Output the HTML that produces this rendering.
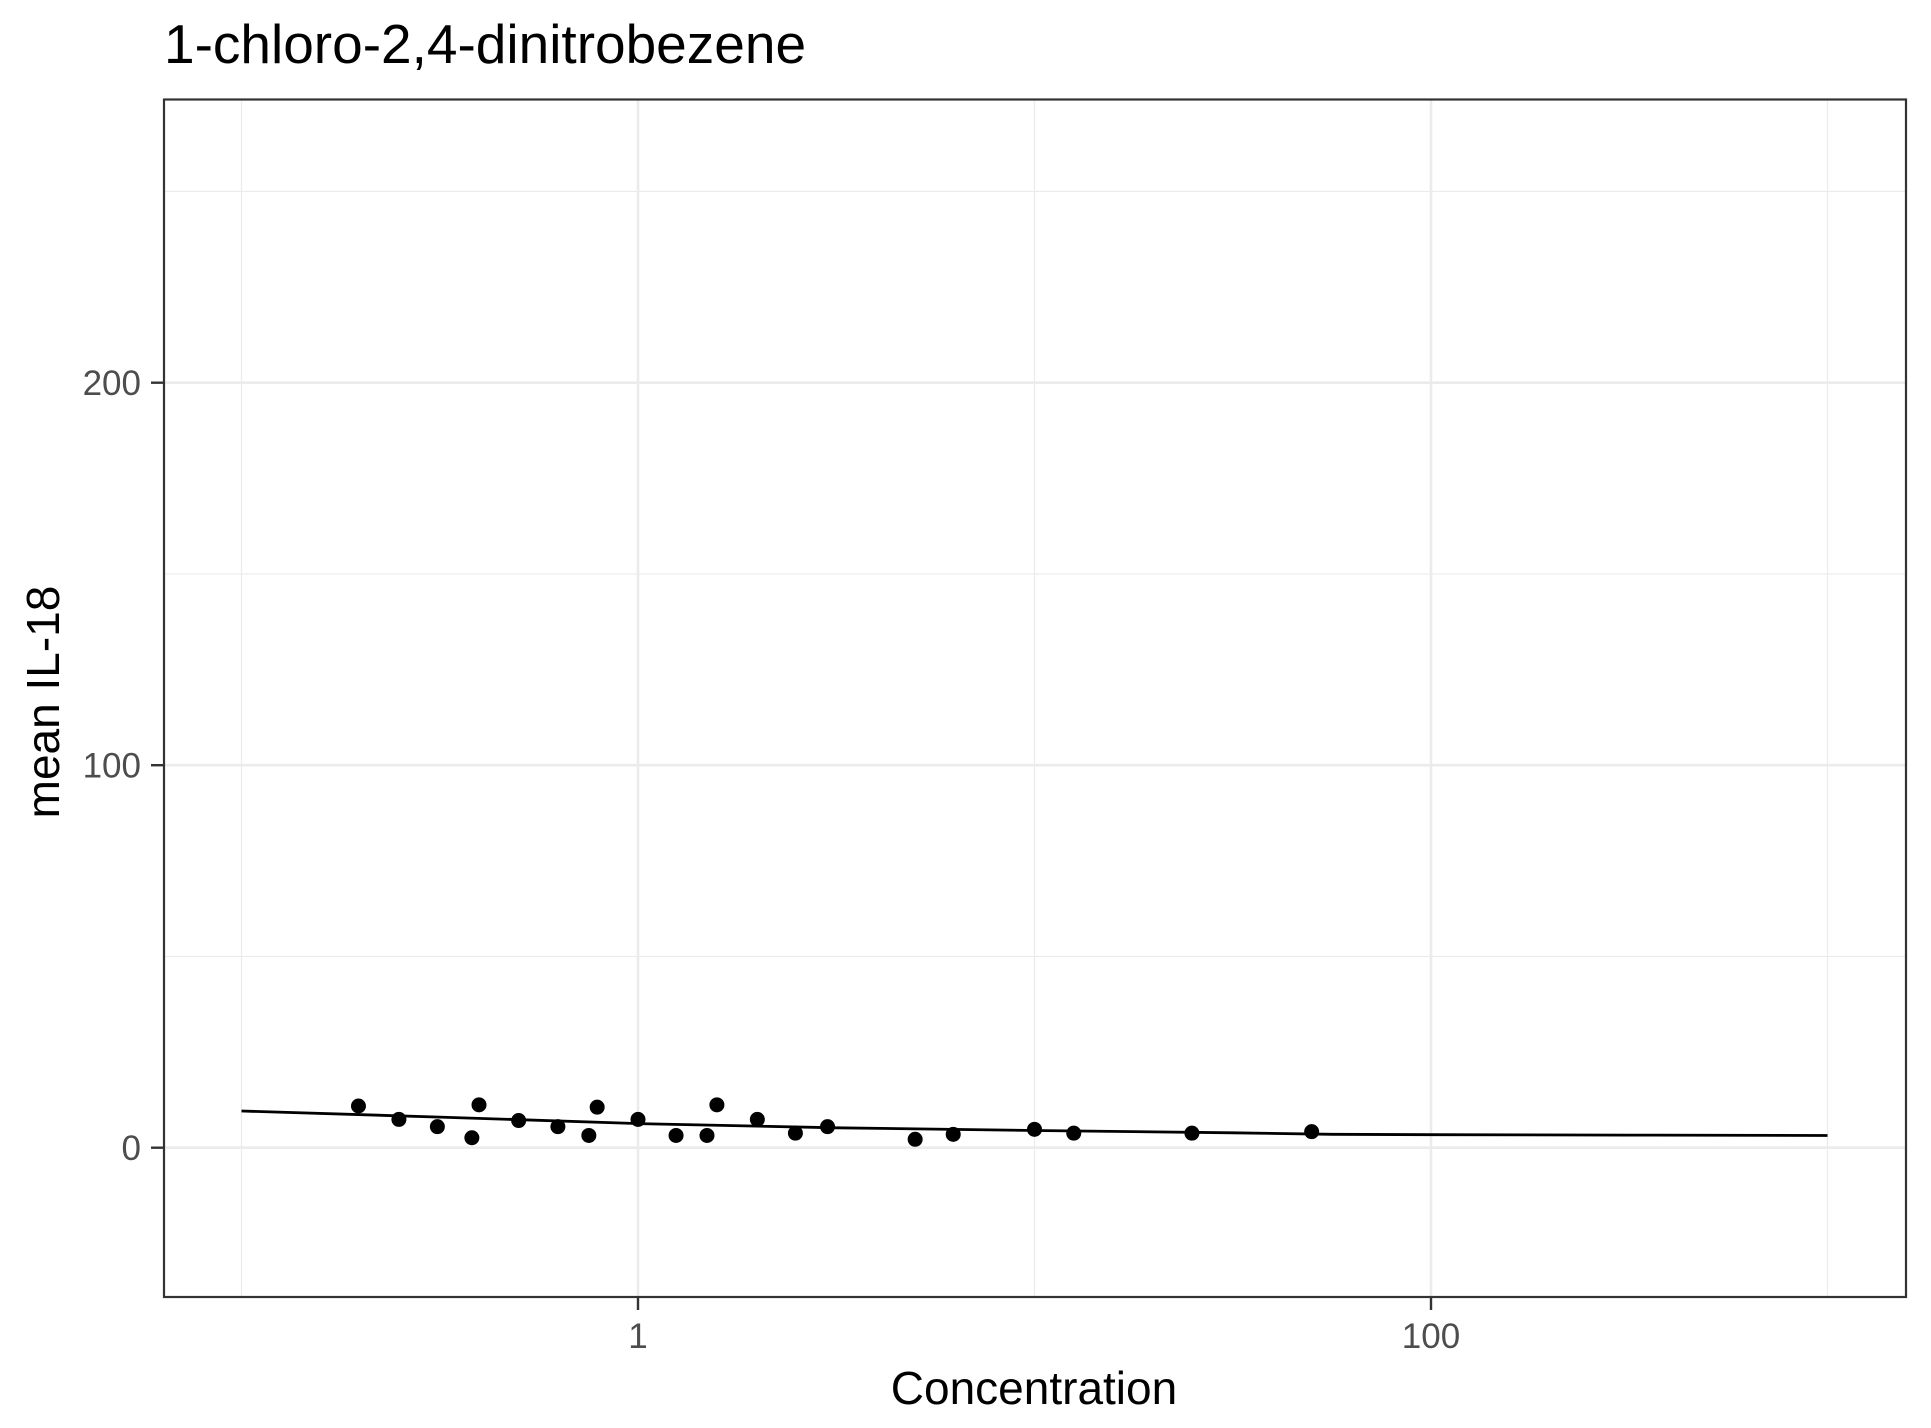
<!DOCTYPE html>
<html><head><meta charset="utf-8"><style>
html,body{margin:0;padding:0;background:#fff;}
svg{display:block;font-family:"Liberation Sans",Arial,sans-serif;}
</style></head><body>
<svg id="chart" width="1931" height="1428" viewBox="0 0 1931 1428" xmlns="http://www.w3.org/2000/svg">
<rect width="1931" height="1428" fill="#fff"/>
<text x="164" y="63" font-size="55" fill="#000">1-chloro-2,4-dinitrobezene</text>
<g id="grid"></g>
<g id="marks"></g>
<rect x="164" y="99.5" width="1742" height="1197.5" fill="none" stroke="#333" stroke-width="2.2"/>
<g id="axes"></g>
<text x="1034" y="1404" font-size="46" text-anchor="middle" fill="#000">Concentration</text>
<text transform="translate(59,702) rotate(-90)" font-size="46" text-anchor="middle" fill="#000">mean IL-18</text>
</svg>
<script>
const pointLogX=[-0.705,-0.603,-0.506,-0.419,-0.401,-0.301,-0.202,-0.124,-0.103,0.0,0.096,0.174,0.199,0.301,0.397,0.478,0.699,0.795,1.0,1.099,1.397,1.699];
const pointY=[10.9,7.4,5.5,2.6,11.2,7.1,5.5,3.2,10.6,7.4,3.2,3.2,11.2,7.4,3.8,5.5,2.2,3.5,4.8,3.8,3.8,4.2];
const curveLogX=[-1,-0.5,0,0.5,1,1.5,1.75,2,2.5,3];
const curveY=[9.6,8.0,6.3,5.2,4.5,3.9,3.5,3.4,3.3,3.2];
const xMajorLog=[0,2];
const xMajorLabels=["1","100"];
const xMinorLog=[-1,1,3];
const yMajor=[0,100,200];
const yMajorLabels=["0","100","200"];
const yMinor=[50,150,250];
const X=l=>638+396.5*l;
const Y=v=>1147.7-3.825*v;
const NS="http://www.w3.org/2000/svg";
function mk(tag,attrs,parent){const e=document.createElementNS(NS,tag);for(const k in attrs)e.setAttribute(k,attrs[k]);parent.appendChild(e);return e;}
const grid=document.getElementById('grid'),marks=document.getElementById('marks'),axes=document.getElementById('axes');
xMinorLog.forEach(l=>{const e=mk('line',{x1:X(l),x2:X(l),y1:99.5,y2:1297,stroke:'#ebebeb','stroke-width':1.2},grid);

});
yMinor.forEach(v=>{const e=mk('line',{x1:164,x2:1906,y1:Y(v),y2:Y(v),stroke:'#ebebeb','stroke-width':1.2},grid);

});
xMajorLog.forEach((l,i)=>{const e=mk('line',{x1:X(l),x2:X(l),y1:99.5,y2:1297,stroke:'#ebebeb','stroke-width':2.6},grid);


const t=mk('line',{x1:X(l),x2:X(l),y1:1297,y2:1310,stroke:'#333','stroke-width':2.4},axes);


const tx=mk('text',{x:X(l),y:1348,'font-size':35,'text-anchor':'middle',fill:'#4d4d4d'},axes);tx.textContent=xMajorLabels[i];

});
yMajor.forEach((v,i)=>{const e=mk('line',{x1:164,x2:1906,y1:Y(v),y2:Y(v),stroke:'#ebebeb','stroke-width':2.6},grid);


const t=mk('line',{x1:151,x2:164,y1:Y(v),y2:Y(v),stroke:'#333','stroke-width':2.4},axes);


const tx=mk('text',{x:141,y:Y(v)+12.5,'font-size':35,'text-anchor':'end',fill:'#4d4d4d'},axes);tx.textContent=yMajorLabels[i];

});
const d=curveLogX.map((l,i)=>(i?'L':'M')+X(l).toFixed(1)+','+Y(curveY[i]).toFixed(1)).join(' ');
const c=mk('path',{d:d,fill:'none',stroke:'#000','stroke-width':2.8},marks);


pointLogX.forEach((l,i)=>{const p=mk('circle',{cx:X(l),cy:Y(pointY[i]),r:7.5,fill:'#000'},marks);

});
</script>
</body></html>
